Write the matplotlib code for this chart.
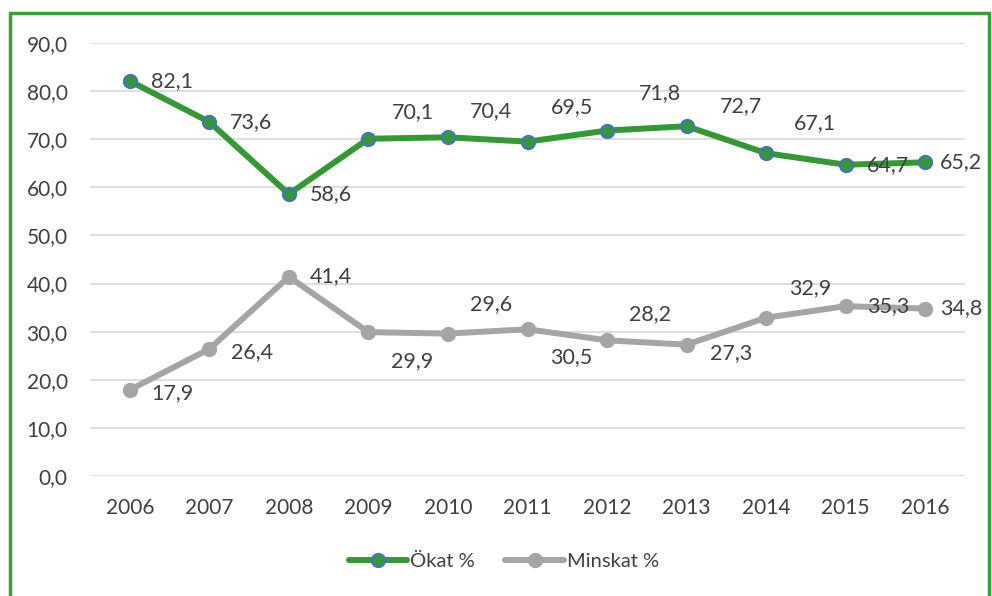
import matplotlib
matplotlib.use("Agg")
import matplotlib.pyplot as plt
from matplotlib.patches import Rectangle

years = ["2006", "2007", "2008", "2009", "2010", "2011", "2012", "2013", "2014", "2015", "2016"]
okat = [82.1, 73.6, 58.6, 70.1, 70.4, 69.5, 71.8, 72.7, 67.1, 64.7, 65.2]
minskat = [17.9, 26.4, 41.4, 29.9, 29.6, 30.5, 28.2, 27.3, 32.9, 35.3, 34.8]
series_names = ["Ökat %", "Minskat %"]
y_ticks = [0, 10, 20, 30, 40, 50, 60, 70, 80, 90]

# label offsets (pixels) – styling only
okat_off = [(21, 0), (21, 0), (21, 0), (23, 27), (22, 26), (23, 35), (32, 37), (33, 20), (28, 30), (21, 0), (15, 0)]
min_off = [(22, -3), (22, -3), (21, 1), (23, -29), (22, 29), (23, -28), (22, 26), (23, -8), (23, 30), (21, 0), (15, 0)]

plt.rcParams['font.family'] = ['Lato', 'DejaVu Sans']
txt = '#404040'

fig = plt.figure(figsize=(9.92, 5.96), dpi=100)
ax = fig.add_axes([90/992, 1-476/596, 875/992, (476-43)/596])

green = '#339933'
grey = '#A5A5A5'
x = list(range(len(years)))
ax.plot(x, okat, color=green, lw=4.3, marker='o', ms=9.5, mfc=green, mec='#4472C4', mew=1.5,
        solid_capstyle='round', label=series_names[0], zorder=3)
ax.plot(x, minskat, color=grey, lw=4.3, marker='o', ms=9.5, mfc=grey, mec=grey, mew=1.5,
        solid_capstyle='round', label=series_names[1], zorder=3)

for i, v in enumerate(okat):
    ax.annotate(f"{v:.1f}".replace('.', ','), (i, v), xytext=okat_off[i], textcoords='offset pixels',
                ha='left', va='center', fontsize=15.5, color=txt, zorder=4)
for i, v in enumerate(minskat):
    ax.annotate(f"{v:.1f}".replace('.', ','), (i, v), xytext=min_off[i], textcoords='offset pixels',
                ha='left', va='center', fontsize=15.5, color=txt, zorder=4)

ax.set_xlim(-0.5, len(years) - 0.5)
ax.set_ylim(0, 90)
ax.set_yticks(y_ticks)
ax.set_yticklabels([f"{t:.1f}".replace('.', ',') for t in y_ticks])
ax.set_xticks(x)
ax.set_xticklabels(years)
ax.tick_params(axis='both', length=0, labelsize=15, labelcolor=txt)
ax.tick_params(axis='y', pad=16)
ax.tick_params(axis='x', pad=16)
ax.grid(axis='y', color='#D9D9D9', lw=1.2)
ax.set_axisbelow(True)
for s in ax.spines.values():
    s.set_visible(False)

leg = fig.legend(loc='center', bbox_to_anchor=(504/992, 1-561/596), ncol=2, frameon=False,
                 fontsize=14.5, handlelength=2.9, columnspacing=1.5, handletextpad=0.15)
for t in leg.get_texts():
    t.set_color(txt)

fig.patches.append(Rectangle((10/992, -0.05), 979/992, 1-13/596 + 0.05, transform=fig.transFigure,
                             fill=False, edgecolor='#3A9E3A', lw=2.5, zorder=10))

fig.savefig('out.png', dpi=100)
